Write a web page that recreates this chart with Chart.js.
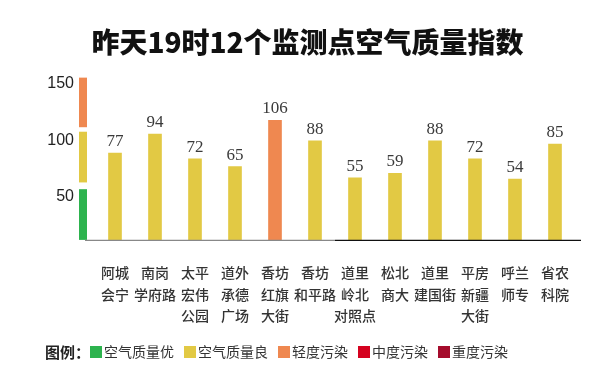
<!DOCTYPE html>
<html>
<head>
<meta charset="utf-8">
<script src="https://cdn.jsdelivr.net/npm/chart.js@4/dist/chart.umd.min.js"></script>
<style>
html,body{margin:0;padding:0;background:#fff;}
#wrap{width:600px;height:380px;}
</style>
</head>
<body>
<div id="wrap"><canvas id="c" width="600" height="380"></canvas></div>
<script>
const categories = [
  ['阿城','会宁'], ['南岗','学府路'], ['太平','宏伟','公园'], ['道外','承德','广场'],
  ['香坊','红旗','大街'], ['香坊','和平路'], ['道里','岭北','对照点'], ['松北','商大'],
  ['道里','建国街'], ['平房','新疆','大街'], ['呼兰','师专'], ['省农','科院']
];
const aqiValues = [77, 94, 72, 65, 106, 88, 55, 59, 88, 72, 54, 85];
const yTicks = [50, 100, 150];
const legendTitle = '图例：';
const levelNames = ['空气质量优', '空气质量良', '轻度污染', '中度污染', '重度污染'];
const levelColors = ['#2db34e', '#e2c944', '#ef8850', '#d5021f', '#a50c2c'];
const levelUpper = [50, 100, 150, 200, 300];
const scaleSegments = [[0, 45], [51, 96], [100, 144]];

function levelIndex(v) {
  for (let i = 0; i < levelUpper.length; i++) if (v <= levelUpper[i]) return i;
  return levelUpper.length - 1;
}

const decorPlugin = {
  id: 'decor',
  afterDatasetsDraw(chart) {
    const ctx = chart.ctx, y = chart.scales.y, x = chart.scales.x, area = chart.chartArea;
    ctx.save();
    // side scale segments
    scaleSegments.forEach((s, i) => {
      const top = y.getPixelForValue(s[1]), bot = y.getPixelForValue(s[0]);
      ctx.fillStyle = levelColors[i];
      ctx.fillRect(area.left - 16, top, 8, bot - top);
    });
    // baselines
    const base = y.getPixelForValue(0) + 0.5;
    const mid = (x.getPixelForTick(5) + x.getPixelForTick(6)) / 2;
    ctx.lineWidth = 1.2;
    ctx.strokeStyle = '#888';
    ctx.beginPath(); ctx.moveTo(area.left - 10, base); ctx.lineTo(mid, base); ctx.stroke();
    ctx.strokeStyle = '#111';
    ctx.beginPath(); ctx.moveTo(mid, base); ctx.lineTo(area.right + 6, base); ctx.stroke();
    // value labels
    ctx.fillStyle = '#3a3a3a';
    ctx.font = '17px "Liberation Serif", serif';
    ctx.textAlign = 'center';
    ctx.textBaseline = 'bottom';
    chart.getDatasetMeta(0).data.forEach((bar, i) => {
      ctx.fillText(String(aqiValues[i]), bar.x, bar.y - 3);
    });
    // legend
    const ly = 352;
    let lx = 45;
    ctx.textAlign = 'left';
    ctx.textBaseline = 'middle';
    ctx.fillStyle = '#222';
    ctx.font = 'bold 15px "Noto Sans CJK SC"';
    ctx.fillText(legendTitle, lx, ly);
    lx += ctx.measureText(legendTitle).width;
    ctx.font = '14px "Noto Sans CJK SC"';
    levelNames.forEach((n, i) => {
      ctx.fillStyle = levelColors[i];
      ctx.fillRect(lx, ly - 6, 12, 12);
      ctx.fillStyle = '#333';
      ctx.fillText(n, lx + 14, ly);
      lx += 14 + ctx.measureText(n).width + 10;
    });
    ctx.restore();
  }
};

new Chart(document.getElementById('c'), {
  type: 'bar',
  data: {
    labels: categories,
    datasets: [{
      data: aqiValues,
      backgroundColor: aqiValues.map(v => levelColors[levelIndex(v)]),
      barThickness: 13
    }]
  },
  plugins: [decorPlugin],
  options: {
    responsive: false,
    animation: false,
    layout: { padding: { left: 40, right: 25, top: 10, bottom: 31 } },
    scales: {
      x: {
        grid: { display: false, drawTicks: false },
        border: { display: false },
        ticks: {
          autoSkip: false, maxRotation: 0, minRotation: 0, padding: 22,
          color: '#333',
          font: { family: '"Noto Sans CJK SC"', size: 14, weight: '500', lineHeight: 1.55 }
        }
      },
      y: {
        min: 0, max: 160,
        afterBuildTicks(axis) { axis.ticks = yTicks.map(v => ({ value: v })); },
        afterFit(axis) { axis.width = 55; },
        grid: { display: false, drawTicks: false },
        border: { display: false },
        ticks: {
          padding: 21, labelOffset: 13, color: '#222',
          font: { family: 'Arial, "Liberation Sans", sans-serif', size: 16 }
        }
      }
    },
    plugins: {
      title: {
        display: true,
        text: '昨天19时12个监测点空气质量指数',
        color: '#111',
        font: { family: '"Noto Sans CJK SC"', size: 28, weight: '900' },
        padding: { top: 16, bottom: 0 }
      },
      tooltip: { enabled: false },
      legend: { display: false }
    }
  }
});
</script>
</body>
</html>
